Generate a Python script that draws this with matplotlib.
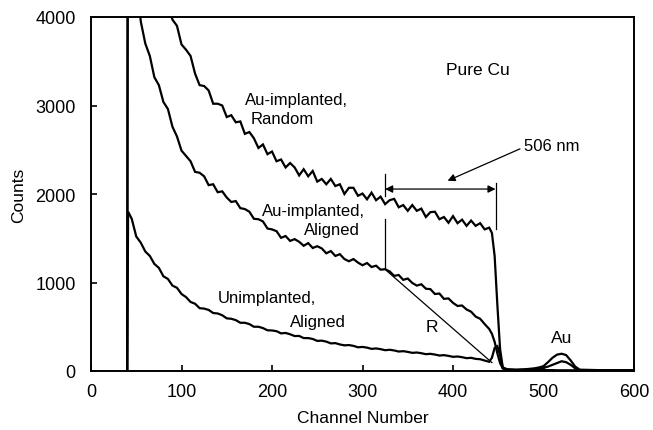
import matplotlib
matplotlib.use("Agg")
import matplotlib.pyplot as plt

plt.rcParams['font.family'] = ['Liberation Sans', 'DejaVu Sans']

# channel grid (every 5 channels, denser near the surface edge)
ch_head = [40, 41, 45, 50]
ch_body = list(range(55, 445, 5))
ch_edge = [443, 446, 449, 452, 455]
ch_tail = [460, 470, 480, 490, 495, 500, 505, 510, 515, 520, 525, 530, 535, 540, 560, 600]

# Au-implanted, random
random_head = [0, 9000, 8000, 7000]
random_body = [6200, 5800, 5400, 5000, 4700, 4400, 4170, 3970, 3900, 3690, 3630,
               3560, 3360, 3230, 3220, 3170, 3020, 3020, 3000, 2870, 2890, 2810,
               2820, 2680, 2700, 2630, 2520, 2560, 2450, 2480, 2370, 2390, 2300,
               2350, 2300, 2210, 2280, 2200, 2260, 2140, 2170, 2110, 2170, 2090,
               2110, 2000, 2070, 2070, 1980, 2005, 1940, 2015, 1930, 1970, 1885,
               1930, 1945, 1850, 1875, 1810, 1875, 1810, 1835, 1740, 1795, 1800,
               1715, 1740, 1675, 1750, 1670, 1710, 1640, 1700, 1640, 1670, 1600,
               1620]
random_edge = [1560, 1300, 750, 250, 40]
random_tail = [20, 15, 20, 30, 40, 55, 100, 150, 185, 195, 180, 120, 50, 15, 10, 10]

# Au-implanted, aligned
aligned_head = [0, 8000, 6000, 4500]
aligned_body = [3950, 3700, 3560, 3320, 3230, 3040, 2960, 2760, 2650, 2490, 2430,
                2370, 2250, 2240, 2200, 2100, 2110, 2020, 2030, 1960, 1910, 1920,
                1840, 1830, 1800, 1720, 1715, 1690, 1610, 1600, 1580, 1505, 1525,
                1470, 1490, 1460, 1415, 1445, 1390, 1410, 1385, 1330, 1355, 1300,
                1320, 1265, 1240, 1265, 1225, 1195, 1220, 1175, 1190, 1145, 1150,
                1125, 1075, 1085, 1030, 1045, 995, 965, 980, 930, 925, 870, 875,
                815, 820, 770, 735, 740, 695, 670, 615, 590, 530, 475]
aligned_edge = [420, 330, 200, 90, 30]
aligned_tail = [15, 12, 15, 20, 25, 35, 50, 70, 90, 110, 100, 70, 30, 10, 6, 5]

# Unimplanted, aligned
unimpl_head = [0, 1800, 1720, 1520]
unimpl_body = [1450, 1350, 1300, 1210, 1165, 1070, 1040, 965, 940, 870, 835, 780,
               760, 710, 705, 690, 655, 650, 630, 595, 590, 575, 545, 545, 530,
               500, 500, 485, 460, 458, 450, 425, 430, 415, 395, 396, 372, 372,
               362, 340, 343, 332, 312, 315, 300, 290, 293, 284, 268, 272, 264,
               250, 255, 247, 235, 240, 232, 220, 224, 216, 205, 209, 201, 190,
               194, 186, 175, 179, 171, 160, 164, 156, 145, 149, 137, 133, 118,
               104]
unimpl_edge = [150, 260, 280, 180, 30]
unimpl_tail = [10, 8, 8, 10, 10, 10, 10, 10, 8, 8, 8, 8, 8, 6, 5, 5]

channels = ch_head + ch_body + ch_edge + ch_tail
random_counts = random_head + random_body + random_edge + random_tail
aligned_counts = aligned_head + aligned_body + aligned_edge + aligned_tail
unimpl_counts = unimpl_head + unimpl_body + unimpl_edge + unimpl_tail

x_ticks = [0, 100, 200, 300, 400, 500, 600]
y_ticks = [0, 1000, 2000, 3000, 4000]

fig = plt.figure(figsize=(6.53, 4.31), dpi=100)
ax = fig.add_axes([91 / 653, 1 - 372 / 431, 543 / 653, 354 / 431])

for counts in (random_counts, aligned_counts, unimpl_counts):
    ax.plot(channels, counts, color='black', lw=1.6, solid_joinstyle='miter')

ax.set_xlim(0, 600)
ax.set_ylim(0, 4000)
ax.set_xticks(x_ticks)
ax.set_yticks(y_ticks)
ax.tick_params(direction='in', length=4, width=1.2, labelsize=13,
               top=False, right=False)
ax.tick_params(axis='y', pad=11)
ax.tick_params(axis='x', pad=9)
for s in ax.spines.values():
    s.set_linewidth(1.4)

ax.set_xlabel('Channel Number', fontsize=12.5, labelpad=7)
ax.set_ylabel('Counts', fontsize=12.5, labelpad=7)

# depth markers and arrows
ax.plot([325, 325], [1980, 2230], color='black', lw=0.9)
ax.plot([325, 325], [1150, 1720], color='black', lw=0.9)
ax.plot([447, 447], [1600, 2120], color='black', lw=0.9)
ax.annotate('', xy=(447, 2056), xytext=(325, 2056),
            arrowprops=dict(arrowstyle='<|-|>', color='black', lw=0.9,
                            mutation_scale=11, shrinkA=0, shrinkB=0))
ax.annotate('', xy=(394, 2150), xytext=(474, 2510),
            arrowprops=dict(arrowstyle='-|>', color='black', lw=0.9,
                            mutation_scale=11, shrinkA=0, shrinkB=0))
ax.text(478, 2545, '506 nm', fontsize=12, ha='left', va='center')

# R line
ax.plot([327, 443], [1130, 95], color='black', lw=0.9)
ax.text(377, 500, 'R', fontsize=12.5, ha='center', va='center')

ax.text(463, 3410, 'Pure Cu', fontsize=12.5, ha='right', va='center')
ax.text(170, 3070, 'Au-implanted,', fontsize=12, ha='left', va='center')
ax.text(176, 2850, 'Random', fontsize=12, ha='left', va='center')
ax.text(303, 1810, 'Au-implanted,', fontsize=12, ha='right', va='center')
ax.text(297, 1600, 'Aligned', fontsize=12, ha='right', va='center')
ax.text(140, 836, 'Unimplanted,', fontsize=12, ha='left', va='center')
ax.text(220, 554, 'Aligned', fontsize=12, ha='left', va='center')
ax.text(520, 384, 'Au', fontsize=12.5, ha='center', va='center')

fig.savefig('out.png', dpi=100)
